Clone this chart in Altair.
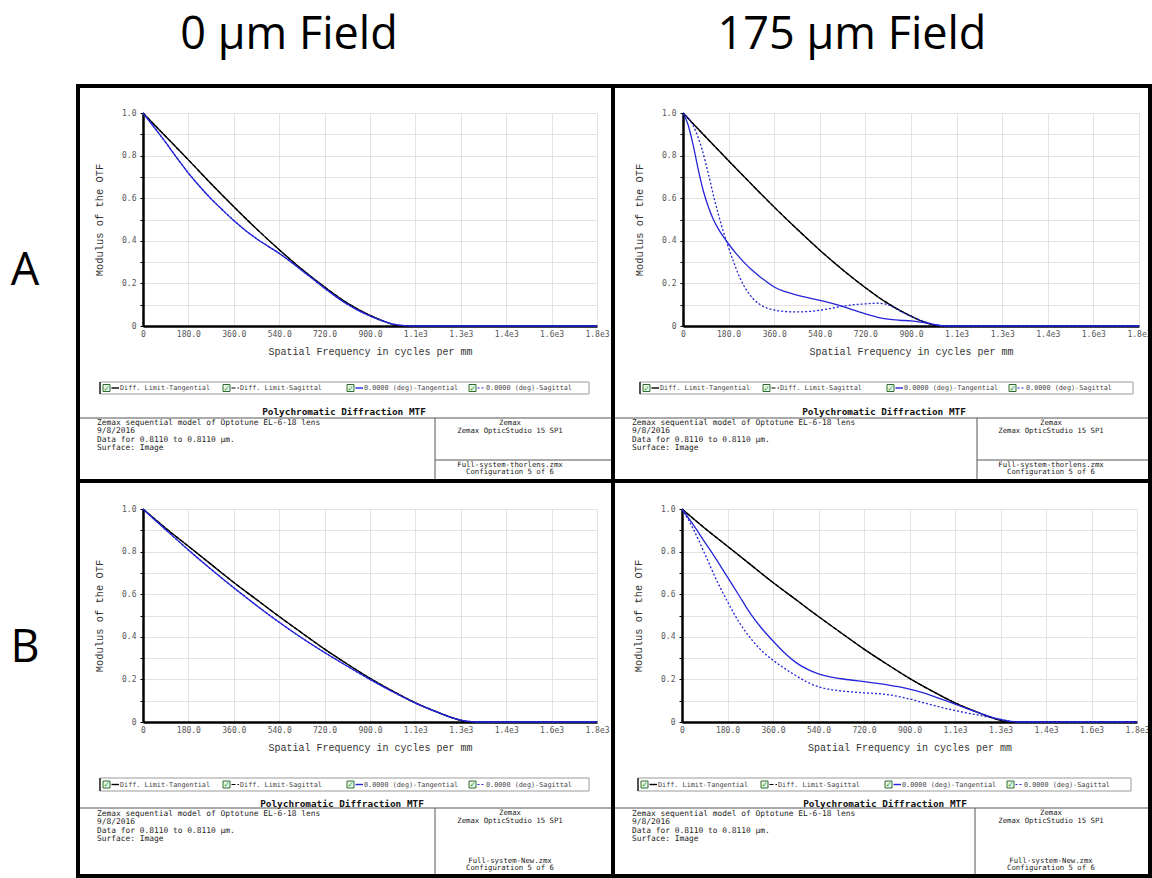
import altair as alt
import pandas as pd

# ------------------------------------------------------------------
# MTF curves: spatial frequency (cycles/mm) -> modulus of the OTF
# ------------------------------------------------------------------
# Row A, 0 µm field
A0_DL_FREQ = [0, 90, 180, 270, 360, 450, 540, 630, 720, 810, 900, 960, 1020, 1800]
A0_DL_MTF = [1.0, 0.89, 0.78, 0.668, 0.56, 0.456, 0.358, 0.266, 0.183, 0.108, 0.05, 0.02, 0.0, 0.0]
A0_TAN_FREQ = [0, 45, 90, 135, 180, 225, 270, 315, 360, 405, 450, 495, 540, 585, 630, 675, 720,
               765, 810, 855, 900, 945, 990, 1035, 1080, 1800]
A0_TAN_MTF = [1.0, 0.932, 0.862, 0.788, 0.718, 0.655, 0.597, 0.545, 0.495, 0.45, 0.41, 0.375, 0.341,
              0.302, 0.261, 0.219, 0.177, 0.138, 0.102, 0.072, 0.047, 0.026, 0.009, 0.002, 0.0, 0.0]
# on axis the sagittal curve lies on the tangential one
A0_SAG_FREQ = A0_TAN_FREQ
A0_SAG_MTF = A0_TAN_MTF

# Row A, 175 µm field
A175_DL_FREQ = [0, 90, 180, 270, 360, 450, 540, 630, 720, 810, 900, 960, 1015, 1800]
A175_DL_MTF = [1.0, 0.887, 0.776, 0.666, 0.558, 0.455, 0.356, 0.264, 0.18, 0.105, 0.046, 0.015, 0.0, 0.0]
A175_TAN_FREQ = [0, 20, 40, 60, 80, 100, 120, 140, 160, 180, 210, 240, 270, 300, 330, 360, 405, 450,
                 495, 540, 585, 630, 675, 720, 765, 810, 855, 900, 945, 990, 1020, 1040, 1800]
A175_TAN_MTF = [1.0, 0.945, 0.85, 0.735, 0.635, 0.56, 0.5, 0.455, 0.418, 0.385, 0.34, 0.3, 0.265,
                0.235, 0.208, 0.183, 0.161, 0.145, 0.132, 0.12, 0.107, 0.092, 0.074, 0.057, 0.042,
                0.032, 0.027, 0.024, 0.017, 0.008, 0.002, 0.0, 0.0]
A175_SAG_FREQ = [0, 25, 50, 75, 100, 125, 150, 175, 200, 225, 250, 275, 300, 330, 360, 405, 450, 495,
                 540, 585, 630, 675, 720, 765, 800, 830, 855, 900, 945, 990, 1015, 1800]
A175_SAG_MTF = [1.0, 0.97, 0.915, 0.83, 0.715, 0.59, 0.48, 0.385, 0.3, 0.225, 0.17, 0.13, 0.104,
                0.085, 0.075, 0.068, 0.066, 0.068, 0.074, 0.083, 0.093, 0.1, 0.104, 0.107, 0.103,
                0.088, 0.072, 0.045, 0.024, 0.007, 0.0, 0.0]

# Row B, 0 µm field
B0_DL_FREQ = [0, 90, 180, 270, 360, 450, 540, 630, 720, 810, 900, 990, 1080, 1170, 1240, 1290, 1800]
B0_DL_MTF = [1.0, 0.91, 0.825, 0.74, 0.655, 0.575, 0.495, 0.418, 0.342, 0.272, 0.205, 0.145, 0.09,
             0.045, 0.015, 0.0, 0.0]
B0_TAN_FREQ = [0, 45, 90, 135, 180, 270, 360, 450, 540, 630, 720, 810, 900, 990, 1080, 1170, 1240,
               1300, 1320, 1800]
B0_TAN_MTF = [1.0, 0.951, 0.903, 0.855, 0.808, 0.717, 0.63, 0.547, 0.468, 0.394, 0.326, 0.262, 0.2,
              0.142, 0.089, 0.045, 0.015, 0.002, 0.0, 0.0]
B0_SAG_FREQ = B0_TAN_FREQ
B0_SAG_MTF = B0_TAN_MTF

# Row B, 175 µm field
B175_DL_FREQ = [0, 90, 180, 270, 360, 450, 540, 630, 720, 810, 900, 990, 1080, 1170, 1240, 1292, 1800]
B175_DL_MTF = [1.0, 0.91, 0.825, 0.74, 0.655, 0.575, 0.495, 0.418, 0.342, 0.272, 0.205, 0.145, 0.09,
               0.045, 0.015, 0.0, 0.0]
B175_TAN_FREQ = [0, 45, 90, 135, 180, 225, 270, 315, 360, 405, 450, 495, 540, 585, 630, 675, 720, 765,
                 810, 855, 900, 945, 990, 1035, 1080, 1125, 1170, 1215, 1260, 1300, 1330, 1800]
B175_TAN_MTF = [1.0, 0.925, 0.845, 0.765, 0.68, 0.595, 0.51, 0.44, 0.38, 0.325, 0.28, 0.248, 0.226,
                0.212, 0.203, 0.196, 0.19, 0.183, 0.175, 0.166, 0.154, 0.14, 0.123, 0.104, 0.084,
                0.064, 0.045, 0.027, 0.012, 0.003, 0.0, 0.0]
B175_SAG_FREQ = [0, 45, 90, 135, 180, 225, 270, 315, 360, 405, 450, 495, 540, 585, 630, 675, 720, 765,
                 810, 855, 900, 945, 990, 1035, 1080, 1125, 1170, 1215, 1260, 1300, 1330, 1800]
B175_SAG_MTF = [1.0, 0.905, 0.79, 0.67, 0.565, 0.47, 0.395, 0.335, 0.29, 0.252, 0.218, 0.188, 0.165,
                0.153, 0.146, 0.141, 0.137, 0.134, 0.129, 0.12, 0.108, 0.094, 0.08, 0.066, 0.054,
                0.043, 0.033, 0.022, 0.012, 0.004, 0.0, 0.0]

# ------------------------------------------------------------------
# Axis ticks and texts
# ------------------------------------------------------------------
X_TICKS = [0, 180, 360, 540, 720, 900, 1080, 1260, 1440, 1620, 1800]
X_TICK_LABELS = ["0", "180.0", "360.0", "540.0", "720.0", "900.0", "1.1e3", "1.3e3", "1.4e3", "1.6e3", "1.8e3"]
Y_TICKS = [0.0, 0.1, 0.2, 0.3, 0.4, 0.5, 0.6, 0.7, 0.8, 0.9, 1.0]
Y_TICK_LABELS = ["0", "", "0.2", "", "0.4", "", "0.6", "", "0.8", "", "1.0"]

COLUMN_TITLES = ["0 µm Field", "175 µm Field"]
ROW_LABELS = ["A", "B"]
LEGEND_LABELS = ["Diff. Limit-Tangential", "Diff. Limit-Sagittal",
                 "0.0000 (deg)-Tangential", "0.0000 (deg)-Sagittal"]
PLOT_TITLE = "Polychromatic Diffraction MTF"
FOOTER_LEFT = ["Zemax sequential model of Optotune EL-6-18 lens", "9/8/2016",
               "Data for 0.8110 to 0.8110 µm.", "Surface: Image"]
FOOTER_RIGHT = ["Zemax", "Zemax OpticStudio 15 SP1"]
FILE_NAMES = ["Full-system-thorlens.zmx", "Full-system-New.zmx"]
CONFIG_LABEL = "Configuration 5 of 6"

BLACK = "#000000"
BLUE = "#2424d8"
MONO = "DejaVu Sans Mono"
MONO_TITLE = "Liberation Mono"
SANS = "Open Sans"

# line style for the four series of every panel: (colour, dash)
SERIES_STYLE = [(BLACK, None), (BLACK, [4, 2]), (BLUE, None), (BLUE, [2, 2])]
LEGEND_OFFSETS = [3, 123, 247, 369]

ONE_ROW = alt.Data(values=[{"k": 0}])


def x_enc():
    return alt.X(
        "freq:Q",
        scale=alt.Scale(domain=[0, 1800], nice=False, zero=True),
        axis=alt.Axis(
            values=X_TICKS,
            labelExpr="[" + ",".join(f"'{s}'" for s in X_TICK_LABELS) + "][round(datum.value / 180)]",
            grid=True, gridColor="#e2e2e2", gridWidth=1,
            ticks=False, domainColor=BLACK, domainWidth=2.5,
            labelFont=MONO, labelFontSize=8, labelColor="#555555", labelPadding=4,
            labelFlush=False, labelOverlap=False,
            title="Spatial Frequency in cycles per mm", titleFont=MONO_TITLE, titleFontSize=10,
            titleFontWeight="normal", titleColor="#333333", titleY=25, titleBaseline="middle",
        ),
    )


def y_enc(h):
    return alt.Y(
        "mtf:Q",
        scale=alt.Scale(domain=[0, 1], nice=False),
        axis=alt.Axis(
            values=Y_TICKS,
            labelExpr="[" + ",".join(f"'{s}'" for s in Y_TICK_LABELS) + "][round(datum.value * 10)]",
            grid=True, gridColor="#e2e2e2", gridWidth=1,
            ticks=True, tickColor=BLACK, tickSize=3, tickWidth=1,
            domainColor=BLACK, domainWidth=2.5,
            labelFont=MONO, labelFontSize=8, labelColor="#555555", labelPadding=4,
            labelFlush=False, labelOverlap=False,
            title="Modulus of the OTF", titleFont=MONO_TITLE, titleFontSize=10.4,
            titleFontWeight="normal", titleColor="#333333",
            titleX=-44, titleY=h / 2, titleAngle=270, titleBaseline="middle", titleAlign="center",
        ),
    )


class Place:
    """Pixel-positioned decorations, given in page coordinates."""

    def __init__(self, ox, oy):
        self.ox, self.oy = ox, oy

    def rect(self, x0, y0, x1, y1, **kw):
        return alt.Chart(ONE_ROW).mark_rect(**kw).encode(
            x=alt.value(x0 - self.ox), x2=alt.value(x1 - self.ox),
            y=alt.value(y0 - self.oy), y2=alt.value(y1 - self.oy))

    def rule(self, x0, y0, x1, y1, **kw):
        return alt.Chart(ONE_ROW).mark_rule(**kw).encode(
            x=alt.value(x0 - self.ox), x2=alt.value(x1 - self.ox),
            y=alt.value(y0 - self.oy), y2=alt.value(y1 - self.oy))

    def text(self, s, x, y, **kw):
        return alt.Chart(ONE_ROW).mark_text(**kw).encode(
            x=alt.value(x - self.ox), y=alt.value(y - self.oy), text=alt.value(s))


def panel(p):
    px0, py0, px1, py1 = p["plot"]
    w, h = px1 - px0, py1 - py0
    at = Place(px0, py0)
    layers = []

    # invisible cell that fixes the panel's footprint in the grid
    cx0, cy0, cx1, cy1 = p["cell"]
    layers.append(at.rect(cx0, cy0, cx1, cy1, color="white", opacity=0))

    # heavy black frame
    for (x0, y0, x1, y1) in p["frame"]:
        layers.append(at.rect(x0, y0, x1, y1, color=BLACK))

    if "col_title" in p:
        s, x, y = p["col_title"]
        layers.append(at.text(s, x, y, font=SANS, fontSize=45, color=BLACK, align="center",
                              baseline="alphabetic"))
    if "row_label" in p:
        s, x, y = p["row_label"]
        layers.append(at.text(s, x, y, font=SANS, fontSize=45, color=BLACK, align="center",
                              baseline="alphabetic"))

    # MTF curves
    for (freq, mtf), (color, dash) in zip(p["curves"], SERIES_STYLE):
        df = pd.DataFrame({"freq": freq, "mtf": mtf})
        mark = dict(color=color, strokeWidth=1.3, interpolate="monotone")
        if dash:
            mark["strokeDash"] = dash
        layers.append(alt.Chart(df).mark_line(**mark).encode(x=x_enc(), y=y_enc(h)))

    # legend strip
    lx0, ly0, lx1, ly1 = p["legend"]
    my = (ly0 + ly1) / 2
    layers.append(at.rect(lx0, ly0, lx1, ly1, fill="white", stroke="#9a9a9a", strokeWidth=1))
    layers.append(at.rule(lx0, ly0, lx0, ly1, color=BLACK, strokeWidth=1.2))
    for off, label, (color, dash) in zip(LEGEND_OFFSETS, LEGEND_LABELS, SERIES_STYLE):
        bx = lx0 + off
        layers.append(at.rect(bx, my - 3.5, bx + 7, my + 3.5, fill="#eaf6ea", stroke="#2f6b2f",
                              strokeWidth=1))
        layers.append(at.text("✓", bx + 3.6, my + 0.5, font="DejaVu Sans", fontSize=7.5,
                              fontWeight="bold", color="#16a016", align="center", baseline="middle"))
        rk = dict(color=color, strokeWidth=1.4 if dash is None else 1.1)
        if dash:
            rk["strokeDash"] = dash
        layers.append(at.rule(bx + 8.5, my, bx + 16, my, **rk))
        layers.append(at.text(label, bx + 17, my, font=MONO, fontSize=6.8, color="#444444",
                              align="left", baseline="middle"))

    # footer block
    tx, ty = p["mtf_title"]
    layers.append(at.text(PLOT_TITLE, tx, ty, font=MONO, fontSize=9.4, fontWeight="bold",
                          color="#111111", align="center", baseline="middle"))
    fx0, fx1, fy = p["footer_line"]
    layers.append(at.rule(fx0, fy, fx1, fy, color="#555555", strokeWidth=1))
    dx, dy0, dy1 = p["divider"]
    layers.append(at.rule(dx, dy0, dx, dy1, color="#555555", strokeWidth=1))
    if "right_rule" in p:
        rx0, rx1, ry = p["right_rule"]
        layers.append(at.rule(rx0, ry, rx1, ry, color="#555555", strokeWidth=1))
    for s, y in zip(FOOTER_LEFT, p["left_y"]):
        layers.append(at.text(s, p["left_x"], y, font=MONO, fontSize=7.9, color="#222222",
                              align="left", baseline="middle"))
    right_texts = FOOTER_RIGHT + [p["file"], CONFIG_LABEL]
    for s, y in zip(right_texts, p["right_y"]):
        layers.append(at.text(s, p["right_cx"], y, font=MONO, fontSize=7.3, color="#222222",
                              align="center", baseline="middle"))

    return alt.layer(*layers).properties(width=w, height=h)


PANELS = [
    dict(  # row A, 0 µm field
        cell=(0, 0, 613, 481), plot=(143, 113, 597, 326),
        frame=[(76, 84, 613, 88), (76, 84, 80, 481), (611, 84, 613, 481), (76, 479, 613, 481)],
        col_title=(COLUMN_TITLES[0], 289, 49), row_label=(ROW_LABELS[0], 25, 285),
        curves=[(A0_DL_FREQ, A0_DL_MTF), (A0_DL_FREQ, A0_DL_MTF),
                (A0_TAN_FREQ, A0_TAN_MTF), (A0_SAG_FREQ, A0_SAG_MTF)],
        legend=(100, 382, 589, 394), mtf_title=(344, 412),
        footer_line=(80, 611, 418), divider=(435, 418, 479), right_rule=(435, 611, 460),
        left_x=97, left_y=[422.5, 431, 439.5, 448],
        right_cx=510, right_y=[423, 431, 464.5, 472], file=FILE_NAMES[0],
    ),
    dict(  # row A, 175 µm field
        cell=(613, 0, 1152, 481), plot=(683, 113, 1139, 326),
        frame=[(613, 84, 1152, 88), (613, 84, 615, 481), (1148, 84, 1152, 481), (613, 479, 1152, 481)],
        col_title=(COLUMN_TITLES[1], 852, 49),
        curves=[(A175_DL_FREQ, A175_DL_MTF), (A175_DL_FREQ, A175_DL_MTF),
                (A175_TAN_FREQ, A175_TAN_MTF), (A175_SAG_FREQ, A175_SAG_MTF)],
        legend=(640, 382, 1133, 394), mtf_title=(884, 412),
        footer_line=(615, 1148, 418), divider=(977, 418, 479), right_rule=(977, 1148, 460),
        left_x=632, left_y=[422.5, 431, 439.5, 448],
        right_cx=1051, right_y=[423, 431, 464.5, 472], file=FILE_NAMES[0],
    ),
    dict(  # row B, 0 µm field
        cell=(0, 481, 613, 878), plot=(143, 509, 597, 722),
        frame=[(76, 481, 613, 483), (76, 481, 80, 878), (611, 481, 613, 878), (76, 874, 613, 878)],
        row_label=(ROW_LABELS[1], 25, 662),
        curves=[(B0_DL_FREQ, B0_DL_MTF), (B0_DL_FREQ, B0_DL_MTF),
                (B0_TAN_FREQ, B0_TAN_MTF), (B0_SAG_FREQ, B0_SAG_MTF)],
        legend=(100, 778, 589, 791), mtf_title=(342, 804),
        footer_line=(80, 611, 808), divider=(435, 808, 874),
        left_x=97, left_y=[813.5, 822, 830.5, 839],
        right_cx=510, right_y=[813, 821, 860.5, 868], file=FILE_NAMES[1],
    ),
    dict(  # row B, 175 µm field
        cell=(613, 481, 1152, 878), plot=(682, 509, 1137, 722),
        frame=[(613, 481, 1152, 483), (613, 481, 615, 878), (1148, 481, 1152, 878), (613, 874, 1152, 878)],
        curves=[(B175_DL_FREQ, B175_DL_MTF), (B175_DL_FREQ, B175_DL_MTF),
                (B175_TAN_FREQ, B175_TAN_MTF), (B175_SAG_FREQ, B175_SAG_MTF)],
        legend=(638, 778, 1131, 791), mtf_title=(885, 804),
        footer_line=(615, 1148, 808), divider=(975, 808, 874),
        left_x=632, left_y=[813.5, 822, 830.5, 839],
        right_cx=1051, right_y=[813, 821, 860.5, 868], file=FILE_NAMES[1],
    ),
]

top_row = alt.hconcat(panel(PANELS[0]), panel(PANELS[1]), spacing=0)
bottom_row = alt.hconcat(panel(PANELS[2]), panel(PANELS[3]), spacing=0)

chart = (
    alt.vconcat(top_row, bottom_row, spacing=0)
    .properties(padding=0, background="white")
    .configure_view(strokeWidth=0)
)

chart.save("out.html", embed_options={"renderer": "svg", "actions": False})
